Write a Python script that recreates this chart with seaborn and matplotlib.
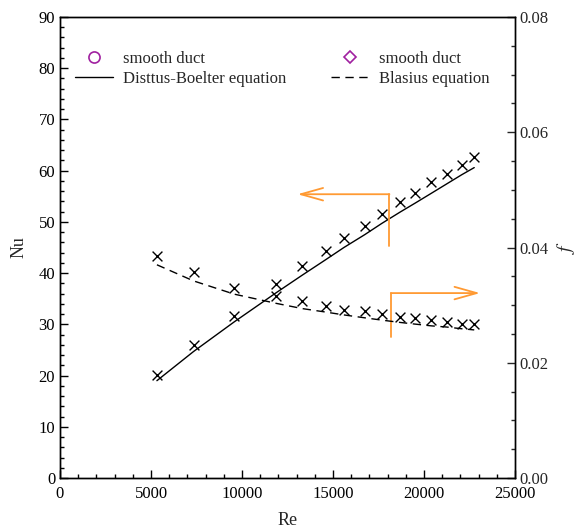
import matplotlib
matplotlib.use("Agg")
import matplotlib.pyplot as plt
from matplotlib.lines import Line2D
from matplotlib.ticker import MultipleLocator
import seaborn as sns
import pandas as pd

# ---- data ----
re_vals = [5325, 7340, 9580, 11890, 13310, 14590, 15600, 16740, 17680, 18680,
           19530, 20410, 21240, 22070, 22760]
nu_exp = [20.1, 26.0, 31.6, 37.8, 41.4, 44.3, 46.8, 49.2, 51.5, 53.8,
          55.7, 57.7, 59.4, 61.2, 62.7]
f_exp = [0.0385, 0.0357, 0.0329, 0.0316, 0.0307, 0.0299, 0.0292, 0.0289, 0.0284,
         0.0280, 0.0278, 0.0274, 0.0271, 0.0267, 0.0268]
nu_db = [19.0, 24.7, 30.5, 36.2, 39.6, 42.6, 45.0, 47.5, 49.7, 51.9,
         53.7, 55.6, 57.4, 59.2, 60.6]
f_bl = [0.0370, 0.0342, 0.0319, 0.0303, 0.0294, 0.0288, 0.0283, 0.0278, 0.0274,
        0.0270, 0.0267, 0.0264, 0.0262, 0.0259, 0.0257]

legend_left = ["smooth duct", "Disttus-Boelter equation"]
legend_right = ["smooth duct", "Blasius equation"]

df = pd.DataFrame({"Re": re_vals, "Nu": nu_exp, "f": f_exp, "NuDB": nu_db, "fB": f_bl})

sns.set_style("ticks")
plt.rcParams["font.family"] = ["Liberation Serif", "DejaVu Serif"]
plt.rcParams["mathtext.fontset"] = "stix"

fig = plt.figure(figsize=(5.83, 5.31), dpi=100)
ax = fig.add_axes([60 / 583, 53 / 531, 455 / 583, 461 / 531])
ax2 = ax.twinx()

orange = "#FF9A33"
purple = "#A020A0"

sns.lineplot(data=df, x="Re", y="NuDB", ax=ax, color="black", lw=1.0, legend=False)
sns.scatterplot(data=df, x="Re", y="Nu", ax=ax, marker="x", color="black", s=50,
                linewidth=1.0, legend=False, zorder=3)
sns.lineplot(data=df, x="Re", y="fB", ax=ax2, color="black", lw=1.0, legend=False,
             linestyle=(0, (6, 4)))
sns.scatterplot(data=df, x="Re", y="f", ax=ax2, marker="x", color="black", s=50,
                linewidth=1.0, legend=False, zorder=3)

ax.set_xlim(0, 25000)
ax.set_ylim(0, 90)
ax2.set_ylim(0, 0.08)
ax.xaxis.set_major_locator(MultipleLocator(5000))
ax.xaxis.set_minor_locator(MultipleLocator(1000))
ax.yaxis.set_major_locator(MultipleLocator(10))
ax.yaxis.set_minor_locator(MultipleLocator(2))
ax2.yaxis.set_major_locator(MultipleLocator(0.02))
ax2.yaxis.set_minor_locator(MultipleLocator(0.005))
ax2.yaxis.set_major_formatter(matplotlib.ticker.FormatStrFormatter("%.2f"))

for a in (ax, ax2):
    for s in a.spines.values():
        s.set_visible(True)
        s.set_linewidth(1.0)
        s.set_color("black")
ax.tick_params(axis="both", which="both", direction="in", labelsize=12, colors="black")
ax.tick_params(which="major", length=6, width=1)
ax.tick_params(which="minor", length=3, width=1)
ax.tick_params(axis="x", pad=6)
ax2.tick_params(axis="y", which="both", direction="in", labelsize=12)
ax2.tick_params(which="major", length=6, width=1)
ax2.tick_params(which="minor", length=3, width=1)

ax.set_xlabel("Re", fontsize=13, labelpad=7)
ax.set_ylabel("Nu", fontsize=13, labelpad=8)
ax2.set_ylabel("$f$", fontsize=14, labelpad=4, rotation=90)

# orange indicator arrows
ax.plot([18100, 18100], [45.2, 55.4], color=orange, lw=1.3)
ax.annotate("", xy=(13050, 55.4), xytext=(18100, 55.4),
            arrowprops=dict(arrowstyle="->,head_length=1.6,head_width=0.45",
                            color=orange, lw=1.3, shrinkA=0, shrinkB=0))
ax.plot([18180, 18180], [27.5, 36.1], color=orange, lw=1.3)
ax.annotate("", xy=(23080, 36.1), xytext=(18180, 36.1),
            arrowprops=dict(arrowstyle="->,head_length=1.6,head_width=0.45",
                            color=orange, lw=1.3, shrinkA=0, shrinkB=0))

h1 = [Line2D([], [], marker="o", mfc="none", mec=purple, ls="none", ms=8, mew=1.2),
      Line2D([], [], color="black", lw=1.0)]
h2 = [Line2D([], [], marker="D", mfc="none", mec=purple, ls="none", ms=6.5, mew=1.2),
      Line2D([], [], color="black", lw=1.0, linestyle=(0, (6, 4)))]
ax.legend(h1, legend_left, loc="upper left", bbox_to_anchor=(0.018, 0.94),
          frameon=False, fontsize=12, handlelength=2.3, handletextpad=0.6,
          labelspacing=0.2, borderaxespad=0)
ax2.legend(h2, legend_right, loc="upper left", bbox_to_anchor=(0.58, 0.94),
           frameon=False, fontsize=12, handlelength=2.3, handletextpad=0.6,
           labelspacing=0.2, borderaxespad=0)

fig.savefig("out.png", dpi=100)
